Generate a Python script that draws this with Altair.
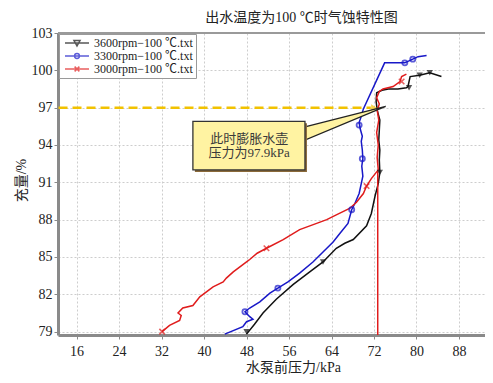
import altair as alt
import pandas as pd

FONT = "Liberation Serif, Noto Sans CJK SC"

series_names = ["3600rpm−100 ℃.txt", "3300rpm−100 ℃.txt", "3000rpm−100 ℃.txt"]
series_colors = ["#111111", "#1818c8", "#e01c1c"]

x_ticks = [16, 24, 32, 40, 48, 56, 64, 72, 80, 88]
y_ticks = [79, 82, 85, 88, 91, 94, 97, 100, 103]
x_domain = [12.5, 92.9]
y_domain = [78.73, 103]

# 3600 rpm (black)
black_x = [48.0, 49.5, 51.1, 53.6, 56.8, 59.9, 62.4, 64.9, 66.5, 68.1, 70.6, 71.5, 72.2, 72.8,
           73.1, 73.0, 73.1, 72.9, 73.0, 73.1, 72.6, 72.4, 72.5, 73.5, 74.7, 76.5, 78.1, 78.4,
           78.8, 80.6, 82.5, 84.7]
black_y = [78.8, 79.6, 80.5, 81.6, 82.8, 83.8, 84.6, 85.7, 86.1, 86.4, 87.5, 88.5, 89.9, 90.9,
           91.8, 92.8, 93.6, 94.4, 95.2, 96.0, 96.8, 97.5, 98.2, 98.4, 98.5, 98.5, 98.6, 98.7,
           99.5, 99.6, 99.8, 99.5]
black_mx = [48.0, 62.4, 73.1, 78.6, 80.6, 82.5]
black_my = [79.0, 84.6, 91.8, 98.6, 99.6, 99.8]

# 3300 rpm (blue)
blue_x = [43.9, 47.3, 48.0, 49.2, 48.6, 47.7, 48.6, 50.5, 52.4, 53.9, 55.8, 58.0, 60.5, 62.4,
          64.3, 65.6, 67.1, 67.8, 68.4, 69.2, 69.6, 69.9, 69.7, 69.9, 69.8, 69.6, 69.8, 69.4,
          69.2, 69.6, 70.0, 74.0, 77.8, 79.3, 80.3, 81.9]
blue_y = [78.8, 79.4, 79.8, 80.0, 80.2, 80.6, 80.9, 81.4, 82.1, 82.5, 83.0, 83.7, 84.6, 85.4,
          86.2, 86.9, 87.7, 88.8, 89.3, 90.1, 90.9, 91.5, 92.3, 92.9, 93.6, 94.3, 94.7, 95.3,
          95.8, 96.3, 96.9, 100.6, 100.6, 100.9, 101.1, 101.2]
blue_mx = [47.7, 53.9, 67.8, 69.8, 69.2, 77.8, 79.3]
blue_my = [80.6, 82.5, 88.8, 92.9, 95.6, 100.6, 100.9]

# 3000 rpm (red)
red_x = [32.1, 33.5, 35.4, 35.7, 35.1, 36.0, 37.9, 39.2, 41.7, 43.6, 44.2, 45.5, 48.0, 48.6,
         50.0, 51.75, 54.9, 58.0, 61.2, 63.1, 65.0, 67.4, 68.7, 70.0, 70.6, 71.5, 72.8, 72.6,
         72.8, 72.5, 72.9, 72.6, 73.0, 72.5, 73.0, 73.7, 75.6, 76.9, 77.2, 78.1]
red_y = [79.0, 79.5, 79.9, 80.3, 80.5, 80.9, 81.1, 81.8, 82.6, 83.0, 83.3, 83.8, 84.6, 84.8,
         85.3, 85.7, 86.4, 87.2, 87.7, 88.0, 88.4, 88.9, 89.4, 90.1, 90.7, 91.3, 92.0, 93.0,
         94.0, 95.0, 96.0, 96.8, 97.3, 97.8, 98.3, 98.5, 98.7, 99.1, 99.5, 99.7]
red_vx = [72.7, 72.7]
red_vy = [78.73, 92.0]
red_mx = [32.1, 51.75, 70.6, 77.2]
red_my = [79.0, 85.7, 90.7, 99.1]

# annotation
dash_x = [12.6, 71.4]
dash_y = [97, 97]
arrow_x = [72.0]
arrow_y = [97]
box_x = [37.9]
box_x2 = [59.0]
box_y = [95.9]
box_y2 = [92.0]
wedge_x = [59.0, 74.2]
wedge_y = [95.45, 97.1]
wedge_y2 = [94.4, 97.1]
note_lines = ["此时膨胀水壶", "压力为97.9kPa"]
note_x = [48.5, 48.5]
note_y = [94.45, 93.35]

legend_paths = [
    "M-4,0L4,0M-1,-0.8L1,-0.8L0,1Z",
    "M-4,0L4,0M0.8,0A0.8,0.8,0,1,1,-0.8,0A0.8,0.8,0,1,1,0.8,0",
    "M-4,0L4,0M-0.8,-0.8L0.8,0.8M0.8,-0.8L-0.8,0.8",
]

# ---------- tables ----------
rows = []
def add(xs, ys, name, seg):
    for i, (a, b) in enumerate(zip(xs, ys)):
        rows.append({"x": a, "y": b, "series": name, "seg": seg, "order": i})

add(black_x, black_y, series_names[0], "b")
add(blue_x, blue_y, series_names[1], "u")
add(red_x, red_y, series_names[2], "r1")
add(red_vx, red_vy, series_names[2], "r2")
lines = pd.DataFrame(rows)

mk_black = pd.DataFrame({"x": black_mx, "y": black_my})
mk_blue = pd.DataFrame({"x": blue_mx, "y": blue_my})
mk_red = pd.DataFrame({"x": red_mx, "y": red_my})

xs = alt.Scale(domain=x_domain, nice=False, zero=False)
ys = alt.Scale(domain=y_domain, nice=False, zero=False)
cscale = alt.Scale(domain=series_names, range=series_colors)

x_axis = alt.Axis(values=x_ticks, title="水泵前压力/kPa", titleX=235, titleY=32)
y_axis = alt.Axis(values=y_ticks, title="充量/%", titleX=-37, titleY=147, titleAngle=270)

line_layer = alt.Chart(lines).mark_line(strokeWidth=1.5, clip=True).encode(
    x=alt.X("x:Q", scale=xs, axis=x_axis),
    y=alt.Y("y:Q", scale=ys, axis=y_axis),
    color=alt.Color("series:N", scale=cscale, legend=None),
    detail="seg:N",
    order="order:Q",
)

def X():
    return alt.X("x:Q", scale=xs, axis=x_axis)
def Y():
    return alt.Y("y:Q", scale=ys, axis=y_axis)

m_black = alt.Chart(mk_black).mark_point(shape="triangle-down", filled=True,
                                         color=series_colors[0], size=40).encode(x=X(), y=Y())
m_blue = alt.Chart(mk_blue).mark_point(shape="circle", filled=False, strokeWidth=1.8,
                                       color=series_colors[1], size=26).encode(x=X(), y=Y())
m_red = alt.Chart(mk_red).mark_point(shape="M-1,-1L1,1M1,-1L-1,1", filled=False,
                                     strokeWidth=1.6, color=series_colors[2],
                                     size=30).encode(x=X(), y=Y())

top_rule = alt.Chart(pd.DataFrame({"y": [y_domain[1]]})).mark_rule(
    color="#9a9a9a", strokeWidth=2).encode(y=Y())

dash_df = pd.DataFrame({"x": dash_x, "y": dash_y})
dash_layer = alt.Chart(dash_df).mark_line(color="#f2c200", strokeWidth=2.5,
                                          strokeDash=[9, 5]).encode(x=X(), y=Y())
arrow_layer = alt.Chart(pd.DataFrame({"x": arrow_x, "y": arrow_y})).mark_point(
    shape="triangle-right", filled=True, color="#f2c200", size=45).encode(x=X(), y=Y())

wedge_df = pd.DataFrame({"x": wedge_x, "y": wedge_y, "y2": wedge_y2})
wedge = alt.Chart(wedge_df).mark_area(fill="#fff3a2", stroke="#222", strokeWidth=1.2).encode(
    x=X(), y=Y(), y2="y2:Q")

box_df = pd.DataFrame({"x": box_x, "x2": box_x2, "y": box_y, "y2": box_y2})
box_shadow = alt.Chart(box_df).mark_rect(color="#8b6a3a", xOffset=2, yOffset=2,
                                         x2Offset=2, y2Offset=2).encode(
    x=X(), x2="x2:Q", y=Y(), y2="y2:Q")
box = alt.Chart(box_df).mark_rect(fill="#fff3a2", stroke="#333", strokeWidth=1.3).encode(
    x=X(), x2="x2:Q", y=Y(), y2="y2:Q")

note_df = pd.DataFrame({"x": note_x, "y": note_y, "t": note_lines})
note = alt.Chart(note_df).mark_text(font=FONT, fontSize=13, color="#3a3a3a").encode(
    x=X(), y=Y(), text="t:N")

leg = alt.Legend(orient="none", legendX=1, legendY=1, title=None,
                 labelFont=FONT, labelFontSize=12, labelColor="#222",
                 strokeColor="#9a9a9a", fillColor="white", padding=3,
                 rowPadding=1, symbolOffset=9, labelOffset=11,
                 symbolStrokeWidth=1.5, symbolSize=36, labelLimit=300)
legend_df = pd.DataFrame({"series": series_names})
legend_layer = alt.Chart(legend_df).mark_point(clip=True, filled=False, strokeWidth=1.5,
                                               size=36).encode(
    x=alt.value(-60), y=alt.value(-60),
    color=alt.Color("series:N", scale=cscale, legend=leg),
    shape=alt.Shape("series:N", scale=alt.Scale(domain=series_names, range=legend_paths),
                    legend=leg),
)

chart = alt.layer(
    line_layer, top_rule, dash_layer, arrow_layer, m_black, m_blue, m_red,
    wedge, box_shadow, box, note, legend_layer,
).resolve_scale(color="independent", shape="independent").properties(
    width=427, height=302,
    autosize=alt.AutoSizeParams(type="none"),
    padding={"left": 50, "top": 25, "right": 0, "bottom": 40},
    title=alt.TitleParams("出水温度为100 ℃时气蚀特性图", font=FONT, fontSize=14,
                          fontWeight="normal", color="#222", dx=30, offset=1,
                          frame="group", anchor="middle"),
).configure_view(stroke=None).configure(background="white").configure_axis(
    grid=True, gridDash=[2, 2], gridColor="#cdcdcd", domainColor="#8a8a8a",
    domainWidth=3, tickColor="#8a8a8a", tickSize=4, labelFont=FONT, labelFontSize=14,
    labelColor="#222", titleFont=FONT, titleFontSize=14, titleFontWeight="normal",
    titleColor="#222", titleBaseline="middle", labelFlush=False, labelOverlap=False,
).configure_axisX(labelPadding=5).configure_axisY(labelPadding=2)

chart.save("out.html", embed_options={"renderer": "svg", "actions": False})
